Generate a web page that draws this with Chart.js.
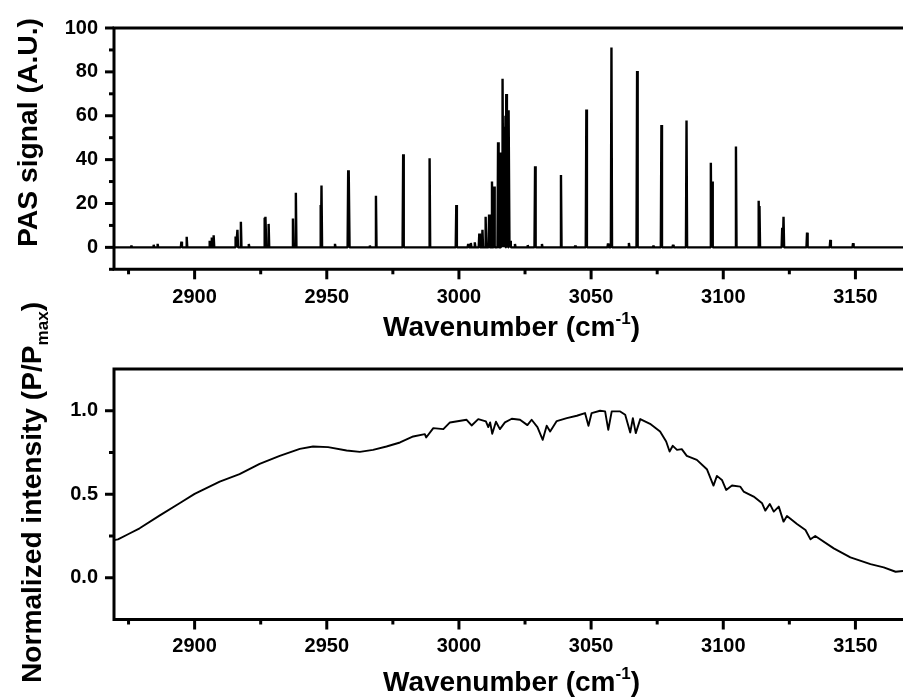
<!DOCTYPE html>
<html>
<head>
<meta charset="utf-8">
<title>PAS spectrum and normalized intensity</title>
<script src="https://cdn.jsdelivr.net/npm/chart.js@4.4.0/dist/chart.umd.min.js"></script>
<style>
    html, body { margin: 0; padding: 0; background: #fff; }
    #wrap { position: relative; width: 903px; height: 699px; }
    #wrap canvas { position: absolute; left: 0; top: 0; }
</style>
</head>
<body>
<div id="wrap">
    <canvas id="pas-chart" width="903" height="699"></canvas>
    <canvas id="norm-chart" width="903" height="699"></canvas>
</div>
<script>
const FONT = "'Liberation Sans', Arial, Helvetica, sans-serif";

// shared wavenumber axis
const xRange = [2869.5, 3168];
const xTicks = [2900, 2950, 3000, 3050, 3100, 3150];
const xMinorTicks = [2875, 2925, 2975, 3025, 3075, 3125];

// top panel: PAS signal lines
const pasYRange = [-10, 100];
const pasYTicks = [0, 20, 40, 60, 80, 100];
const pasYMinorTicks = [-10, 10, 30, 50, 70, 90];
const pasPeakPos = [
    2876.1, 2884.5, 2886.0, 2895.0, 2897.0, 2905.7, 2906.5, 2907.2,
    2915.5, 2916.2, 2917.5, 2920.5, 2926.5, 2926.9, 2928.0, 2937.2, 2938.3,
    2947.7, 2948.0, 2953.1, 2958.1, 2958.4, 2966.3, 2968.6, 2978.9, 2988.9, 2999.0,
    3003.5, 3004.5, 3006.0, 3007.7, 3008.9, 3010.1, 3011.4, 3012.5, 3013.3,
    3014.8, 3015.9, 3016.3, 3016.6, 3017.2, 3017.6, 3017.9, 3018.4, 3018.9, 3019.4,
    3021.2, 3026.0, 3028.8, 3031.4, 3038.6, 3044.0, 3048.2, 3056.4, 3057.7,
    3064.3, 3067.4, 3073.6, 3076.6, 3081.0, 3086.1, 3095.3, 3095.8, 3104.8,
    3113.4, 3113.7, 3122.3, 3122.8, 3131.7, 3140.5, 3149.1
];
const pasPeakHeight = [
    0.8, 1.2, 1.6, 2.6, 4.8, 3.0, 4.5, 5.5,
    5.0, 8.0, 11.7, 1.5, 13.5, 13.9, 10.7, 13.2, 24.9,
    19.3, 28.2, 1.6, 35.2, 34.6, 0.8, 23.5, 42.4, 40.6, 19.3,
    1.5, 2.0, 2.3, 6.3, 8.0, 14.0, 15.0, 30.0, 27.7,
    47.9, 43.2, 40.0, 76.9, 55.0, 60.0, 69.9, 50.0, 62.5, 3.0,
    1.5, 1.0, 37.0, 1.5, 33.0, 0.8, 62.9, 1.8, 91.1,
    2.0, 80.4, 0.8, 55.8, 1.2, 57.8, 38.6, 30.0, 46.0,
    21.2, 18.8, 8.9, 13.9, 6.7, 3.4, 1.9
];

// bottom panel: normalized intensity
const normYRange = [-0.25, 1.25];
const normYTicks = [0, 0.5, 1.0];
const normYMinorTicks = [0.25, 0.75];
const normWavenumber = [
    2869.5, 2871.0, 2875.0, 2879.2, 2886.7, 2894.3, 2900.0, 2909.5, 2917.0, 2924.6,
    2932.2, 2939.8, 2944.8, 2950.5, 2957.5, 2962.5, 2967.5, 2972.6, 2977.7, 2982.7,
    2987.1, 2987.6, 2990.3, 2994.1, 2996.6, 3002.9, 3004.8, 3007.3, 3010.2, 3011.1,
    3011.8, 3012.6, 3014.0, 3015.5, 3017.4, 3020.0, 3023.1, 3025.9, 3027.5, 3029.7,
    3031.7, 3033.2, 3034.5, 3037.0, 3040.8, 3044.6, 3047.7, 3049.0, 3050.2, 3053.4,
    3055.3, 3056.5, 3057.8, 3061.0, 3062.9, 3064.8, 3065.8, 3066.9, 3068.6, 3072.3,
    3076.1, 3078.4, 3079.7, 3080.9, 3082.5, 3084.3, 3086.2, 3090.0, 3093.8, 3096.3,
    3097.6, 3099.5, 3101.1, 3103.3, 3106.4, 3107.7, 3111.5, 3114.7, 3115.9, 3117.6,
    3119.1, 3121.0, 3122.8, 3124.1, 3127.9, 3131.1, 3133.0, 3134.8, 3141.8, 3148.1,
    3155.7, 3160.7, 3165.2, 3168.0
];
const normIntensity = [
    0.225, 0.23, 0.262, 0.296, 0.372, 0.446, 0.502, 0.576, 0.62, 0.682,
    0.73, 0.772, 0.786, 0.782, 0.762, 0.754, 0.766, 0.786, 0.81, 0.846,
    0.86, 0.84, 0.896, 0.89, 0.93, 0.946, 0.912, 0.95, 0.936, 0.902,
    0.93, 0.862, 0.934, 0.89, 0.93, 0.952, 0.946, 0.914, 0.946, 0.902,
    0.826, 0.91, 0.876, 0.938, 0.956, 0.97, 0.986, 0.91, 0.986, 1.0,
    0.996, 0.886, 0.996, 0.996, 0.976, 0.87, 0.956, 0.866, 0.95, 0.922,
    0.876, 0.816, 0.756, 0.79, 0.766, 0.77, 0.73, 0.706, 0.65, 0.552,
    0.61, 0.586, 0.526, 0.552, 0.546, 0.516, 0.486, 0.446, 0.402, 0.442,
    0.396, 0.426, 0.336, 0.37, 0.322, 0.286, 0.23, 0.25, 0.176, 0.122,
    0.082, 0.062, 0.036, 0.04
];

function buildStickSpectrum(pos, height) {
    const points = [{ x: xRange[0], y: 0 }];
    const order = pos.map((p, i) => i).sort((a, b) => pos[a] - pos[b]);
    order.forEach(i => {
        points.push({ x: pos[i] - 0.22, y: 0 });
        points.push({ x: pos[i], y: height[i] });
        points.push({ x: pos[i] + 0.22, y: 0 });
    });
    points.push({ x: xRange[1], y: 0 });
    return points;
}

// draws text made of pieces (normal / super / subscript), stretched to a length
function drawRichText(ctx, parts, x, y, angle, length) {
    ctx.save();
    ctx.translate(x, y);
    ctx.rotate(angle);
    let total = 0;
    parts.forEach(p => {
        ctx.font = `bold ${p.size}px ${FONT}`;
        total += ctx.measureText(p.text).width;
    });
    ctx.scale(length / total, 1);
    ctx.fillStyle = '#000';
    ctx.textAlign = 'left';
    ctx.textBaseline = 'alphabetic';
    let cx = 0;
    parts.forEach(p => {
        ctx.font = `bold ${p.size}px ${FONT}`;
        ctx.fillText(p.text, cx, p.shift || 0);
        cx += ctx.measureText(p.text).width;
    });
    ctx.restore();
}

function axisDecor(cfg) {
    return {
        id: 'axisDecor',
        afterDraw(chart) {
            const { ctx, chartArea: a, scales } = chart;
            const x = scales.x, y = scales.y;
            ctx.save();
            ctx.strokeStyle = '#000';
            ctx.lineCap = 'butt';
            ctx.lineWidth = 3;
            ctx.beginPath();
            ctx.moveTo(a.left - 1.5, a.top);
            ctx.lineTo(a.right, a.top);
            ctx.moveTo(a.left, a.top);
            ctx.lineTo(a.left, a.bottom + 1.5);
            ctx.moveTo(a.left - 1.5, a.bottom);
            ctx.lineTo(a.right, a.bottom);
            ctx.stroke();

            const yTick = (vals, len) => vals.forEach(v => {
                const py = y.getPixelForValue(v);
                ctx.beginPath();
                ctx.moveTo(a.left, py);
                ctx.lineTo(a.left - len, py);
                ctx.stroke();
            });
            const xTick = (vals, len) => vals.forEach(v => {
                const px = x.getPixelForValue(v);
                if (px < a.left || px > a.right) return;
                ctx.beginPath();
                ctx.moveTo(px, a.bottom);
                ctx.lineTo(px, a.bottom + len);
                ctx.stroke();
            });
            yTick(cfg.yMajor, 9);
            yTick(cfg.yMinor, 5);
            xTick(xTicks, 10);
            xTick(xMinorTicks, 5);
            ctx.restore();

            const xTitle = [
                { text: 'Wavenumber (cm', size: 28 },
                { text: '-1', size: 17, shift: -12 },
                { text: ')', size: 28 }
            ];
            drawRichText(ctx, xTitle, 383, cfg.xTitleY, 0, 257);
            drawRichText(ctx, cfg.yTitle, cfg.yTitleX, cfg.yTitleStart, -Math.PI / 2, cfg.yTitleLength);
        }
    };
}

function panelOptions(yRange, yTicks, top, bottom, xPad, fmt) {
    const xHeight = 40;
    return {
        responsive: false,
        animation: false,
        events: [],
        layout: { padding: { left: 0, right: 0, top: top, bottom: 699 - bottom - xHeight } },
        plugins: { legend: { display: false }, tooltip: { enabled: false } },
        scales: {
            x: {
                type: 'linear',
                min: xRange[0],
                max: xRange[1],
                afterBuildTicks: s => { s.ticks = xTicks.map(v => ({ value: v })); },
                afterFit: s => { s.height = xHeight; },
                grid: { display: false, drawTicks: false },
                border: { display: false },
                ticks: {
                    padding: xPad,
                    maxRotation: 0,
                    autoSkip: false,
                    color: '#000',
                    font: { family: FONT, weight: 'bold', size: 20 },
                    callback: v => String(v)
                }
            },
            y: {
                type: 'linear',
                min: yRange[0],
                max: yRange[1],
                afterBuildTicks: s => { s.ticks = yTicks.map(v => ({ value: v })); },
                afterFit: s => { s.width = 114; },
                grid: { display: false, drawTicks: false },
                border: { display: false },
                ticks: {
                    padding: 16,
                    autoSkip: false,
                    color: '#000',
                    font: { family: FONT, weight: 'bold', size: 20 },
                    callback: fmt
                }
            }
        }
    };
}

document.addEventListener('DOMContentLoaded', function() {
    new Chart(document.getElementById('pas-chart'), {
        type: 'line',
        data: {
            datasets: [{
                data: buildStickSpectrum(pasPeakPos, pasPeakHeight),
                borderColor: '#000',
                borderWidth: 2.4,
                borderJoinStyle: 'bevel',
                pointRadius: 0,
                tension: 0,
                fill: false
            }]
        },
        options: panelOptions(pasYRange, pasYTicks, 17.5, 269.3, 16.5, v => String(v)),
        plugins: [axisDecor({
            yMajor: pasYTicks,
            yMinor: pasYMinorTicks,
            xTitleY: 335.5,
            yTitleX: 37,
            yTitleStart: 247,
            yTitleLength: 229,
            yTitle: [{ text: 'PAS signal (A.U.)', size: 28 }]
        })]
    });

    new Chart(document.getElementById('norm-chart'), {
        type: 'line',
        data: {
            datasets: [{
                data: normWavenumber.map((w, i) => ({ x: w, y: normIntensity[i] })),
                borderColor: '#000',
                borderWidth: 1.9,
                borderJoinStyle: 'round',
                pointRadius: 0,
                tension: 0,
                fill: false
            }]
        },
        options: panelOptions(normYRange, normYTicks, 369, 619.5, 15, v => v.toFixed(1)),
        plugins: [axisDecor({
            yMajor: normYTicks,
            yMinor: normYMinorTicks,
            xTitleY: 690.5,
            yTitleX: 41,
            yTitleStart: 683,
            yTitleLength: 381,
            yTitle: [
                { text: 'Normalized intensity (P/P', size: 28 },
                { text: 'max', size: 17, shift: 7 },
                { text: ')', size: 28 }
            ]
        })]
    });
});
</script>
</body>
</html>
